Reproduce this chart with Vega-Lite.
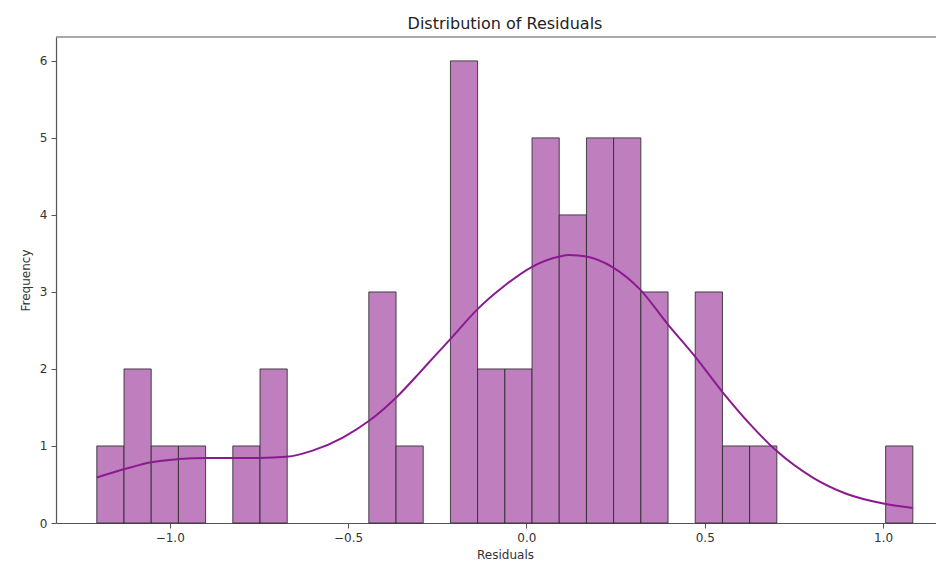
{
  "$schema": "https://vega.github.io/schema/vega-lite/v6.json",
  "autosize": "none",
  "width": 880,
  "height": 486,
  "padding": {"left": 56, "top": 37, "right": 0, "bottom": 40},
  "background": "white",
  "config": {
    "view": {"stroke": null},
    "font": "DejaVu Sans",
    "axis": {
      "grid": false,
      "domainColor": "#555555",
      "domainWidth": 1.2,
      "tickColor": "#555555",
      "tickSize": 5,
      "labelColor": "#333333",
      "labelFont": "DejaVu Sans",
      "labelFontSize": 12,
      "titleColor": "#333333",
      "titleFont": "DejaVu Sans",
      "titleFontSize": 12,
      "titleFontWeight": "normal"
    }
  },
  "title": {
    "text": "Distribution of Residuals",
    "font": "DejaVu Sans",
    "fontSize": 16,
    "fontWeight": "normal",
    "color": "#222222",
    "anchor": "middle",
    "dx": 9,
    "offset": 4
  },
  "datasets": {
    "bins": [
      {"bin_start": -1.2044, "bin_end": -1.1281, "count": 1},
      {"bin_start": -1.1281, "bin_end": -1.0519, "count": 2},
      {"bin_start": -1.0519, "bin_end": -0.9756, "count": 1},
      {"bin_start": -0.9756, "bin_end": -0.8994, "count": 1},
      {"bin_start": -0.8231, "bin_end": -0.7468, "count": 1},
      {"bin_start": -0.7468, "bin_end": -0.6706, "count": 2},
      {"bin_start": -0.4418, "bin_end": -0.3655, "count": 3},
      {"bin_start": -0.3655, "bin_end": -0.2893, "count": 1},
      {"bin_start": -0.2130, "bin_end": -0.1368, "count": 6},
      {"bin_start": -0.1368, "bin_end": -0.0605, "count": 2},
      {"bin_start": -0.0605, "bin_end": 0.0158, "count": 2},
      {"bin_start": 0.0158, "bin_end": 0.0920, "count": 5},
      {"bin_start": 0.0920, "bin_end": 0.1683, "count": 4},
      {"bin_start": 0.1683, "bin_end": 0.2445, "count": 5},
      {"bin_start": 0.2445, "bin_end": 0.3208, "count": 5},
      {"bin_start": 0.3208, "bin_end": 0.3971, "count": 3},
      {"bin_start": 0.4733, "bin_end": 0.5496, "count": 3},
      {"bin_start": 0.5496, "bin_end": 0.6258, "count": 1},
      {"bin_start": 0.6258, "bin_end": 0.7021, "count": 1},
      {"bin_start": 1.0071, "bin_end": 1.0834, "count": 1}
    ],
    "kde": [
      {"x": -1.2044, "density": 0.59},
      {"x": -1.1267, "density": 0.70},
      {"x": -1.0519, "density": 0.79},
      {"x": -0.9753, "density": 0.83},
      {"x": -0.8996, "density": 0.845},
      {"x": -0.8231, "density": 0.845},
      {"x": -0.7483, "density": 0.845},
      {"x": -0.6717, "density": 0.86},
      {"x": -0.5997, "density": 0.94},
      {"x": -0.5147, "density": 1.11},
      {"x": -0.4399, "density": 1.33},
      {"x": -0.3650, "density": 1.63},
      {"x": -0.2997, "density": 1.95},
      {"x": -0.2624, "density": 2.14},
      {"x": -0.2108, "density": 2.40},
      {"x": -0.1362, "density": 2.78},
      {"x": -0.0614, "density": 3.08},
      {"x": 0.0135, "density": 3.32},
      {"x": 0.0928, "density": 3.46},
      {"x": 0.1208, "density": 3.48},
      {"x": 0.1676, "density": 3.46},
      {"x": 0.2422, "density": 3.32},
      {"x": 0.3171, "density": 3.04},
      {"x": 0.3964, "density": 2.58},
      {"x": 0.4713, "density": 2.17},
      {"x": 0.5498, "density": 1.70},
      {"x": 0.6255, "density": 1.29},
      {"x": 0.7003, "density": 0.94},
      {"x": 0.8029, "density": 0.59},
      {"x": 0.8966, "density": 0.38},
      {"x": 1.0039, "density": 0.25},
      {"x": 1.0833, "density": 0.195}
    ]
  },
  "layer": [
    {
      "data": {"name": "bins"},
      "mark": {"type": "rect", "fill": "#bf7fbf", "stroke": "#2a2a2a", "strokeWidth": 1, "strokeOpacity": 0.85},
      "encoding": {
        "x": {
          "field": "bin_start",
          "type": "quantitative",
          "scale": {"domain": [-1.3188, 1.1483], "nice": false, "zero": false},
          "axis": {
            "values": [-1.0, -0.5, 0.0, 0.5, 1.0],
            "format": ".1f",
            "title": "Residuals",
            "titleX": 449,
            "labelPadding": 4,
            "titlePadding": 6
          }
        },
        "x2": {"field": "bin_end"},
        "y": {
          "field": "count",
          "type": "quantitative",
          "scale": {"domain": [0, 6.31], "nice": false},
          "axis": {
            "values": [0, 1, 2, 3, 4, 5, 6],
            "format": "d",
            "title": "Frequency",
            "labelPadding": 4,
            "titlePadding": 7
          }
        },
        "y2": {"datum": 0}
      }
    },
    {
      "data": {"name": "kde"},
      "mark": {"type": "line", "color": "#8b1a90", "strokeWidth": 2, "interpolate": "monotone"},
      "encoding": {
        "x": {"field": "x", "type": "quantitative"},
        "y": {"field": "density", "type": "quantitative"}
      }
    },
    {
      "data": {"values": [{}]},
      "mark": {"type": "rule", "color": "#555555", "strokeWidth": 1.2},
      "encoding": {
        "y": {"datum": 6.31}
      }
    }
  ]
}
